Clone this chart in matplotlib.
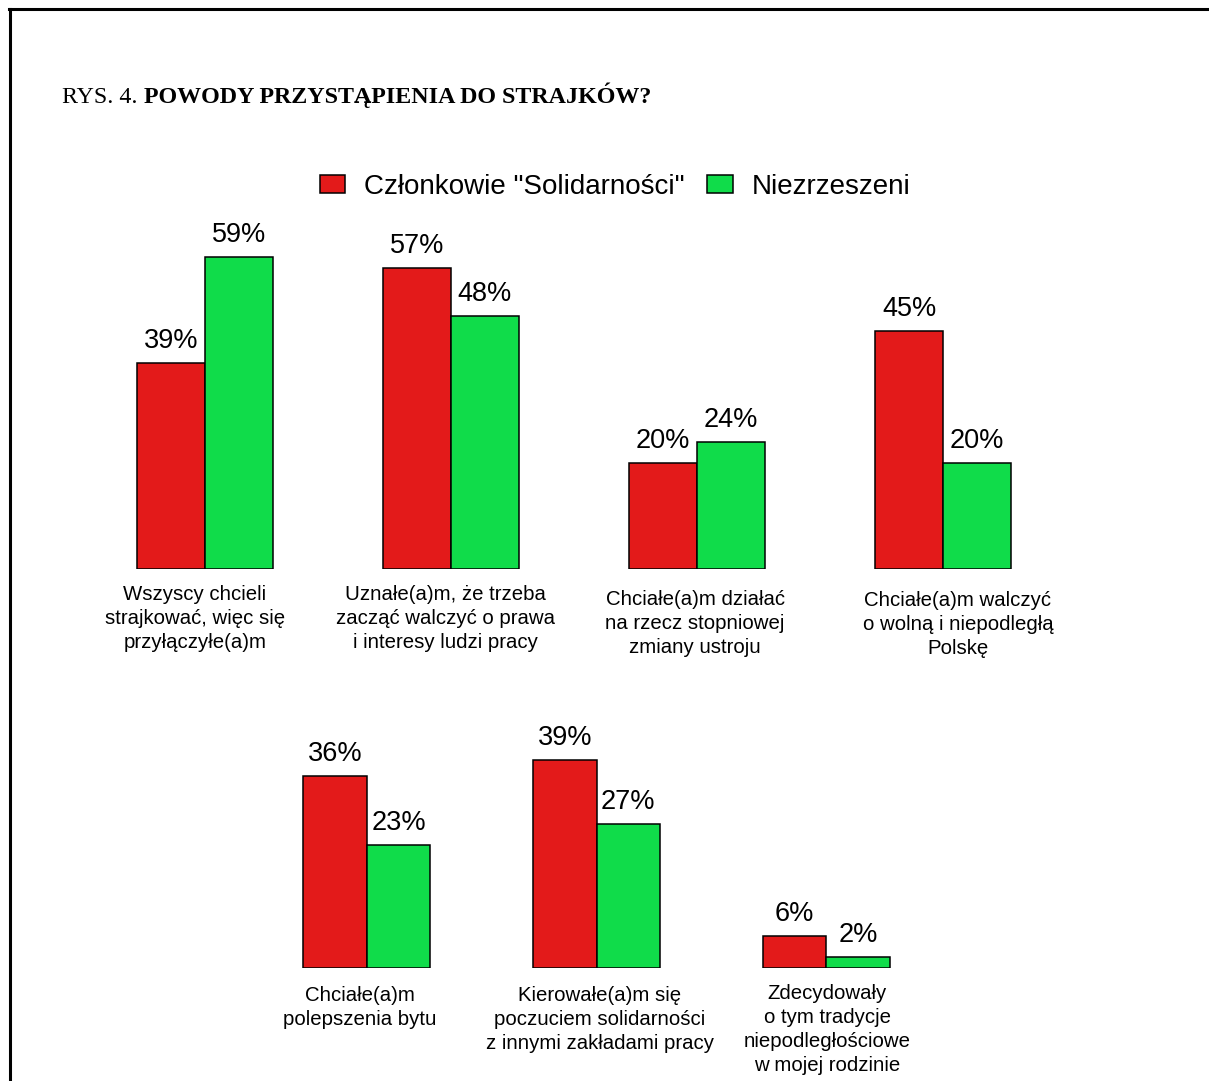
import matplotlib
matplotlib.use("Agg")
import matplotlib.pyplot as plt
from matplotlib.lines import Line2D
from matplotlib.patches import Patch

# data
top_reasons = ["Wszyscy chcieli\nstrajkować, więc się\nprzyłączyłe(a)m",
               "Uznałe(a)m, że trzeba\nzacząć walczyć o prawa\ni interesy ludzi pracy",
               "Chciałe(a)m działać\nna rzecz stopniowej\nzmiany ustroju",
               "Chciałe(a)m walczyć\no wolną i niepodległą\nPolskę"]
top_solidarnosc = [39, 57, 20, 45]
top_niezrzeszeni = [59, 48, 24, 20]

bottom_reasons = ["Chciałe(a)m\npolepszenia bytu",
                  "Kierowałe(a)m się\npoczuciem solidarności\nz innymi zakładami pracy",
                  "Zdecydowały\no tym tradycje\nniepodległościowe\nw mojej rodzinie"]
bottom_solidarnosc = [36, 39, 6]
bottom_niezrzeszeni = [23, 27, 2]

series_names = ['Członkowie "Solidarności"', "Niezrzeszeni"]
red = "#e31a1a"
green = "#10dc4a"

# small nudges of the category captions (pixels), as in the original layout
top_nudge = [(-10, 0), (-6, 0), (-2, 5), (15, 6)]
bottom_nudge = [(-7, 2), (3, 2), (1, 0)]

plt.rcParams['font.family'] = ['Liberation Sans', 'DejaVu Sans']

W, H = 1209, 1081
fig = plt.figure(figsize=(W / 100, H / 100), dpi=100)

def draw_row(ax, cats, s1, s2, ymax, nudge):
    x = list(range(len(cats)))
    w = 0.276
    b1 = ax.bar([i - w / 2 for i in x], s1, width=w, color=red, edgecolor="black", linewidth=1.1)
    b2 = ax.bar([i + w / 2 for i in x], s2, width=w, color=green, edgecolor="black", linewidth=1.1)
    for bars in (b1, b2):
        ax.bar_label(bars, labels=[f"{v}%" for v in bars.datavalues], padding=6.5, fontsize=19.5)
    for i, c, (dx, dy) in zip(x, cats, nudge):
        ax.annotate(c, xy=(i, 0), xytext=(dx, -16 - dy), textcoords="offset pixels",
                    ha="center", va="top", fontsize=14.7, linespacing=1.33,
                    annotation_clip=False)
    ax.set_xlim(-0.5, len(cats) - 0.5)
    ax.set_ylim(0, ymax)
    ax.axis("off")

# top row: group centres 205..943 px, baseline at 569 px
ax1 = fig.add_axes([82 / W, (H - 569) / H, 984 / W, 65 * 5.28 / H])
draw_row(ax1, top_reasons, top_solidarnosc, top_niezrzeszeni, 65, top_nudge)

# bottom row: group centres 367..826 px, baseline at 968 px
ax2 = fig.add_axes([252 / W, (H - 968) / H, 689 / W, 45 * 5.33 / H])
draw_row(ax2, bottom_reasons, bottom_solidarnosc, bottom_niezrzeszeni, 45, bottom_nudge)

# legend
handles = [Patch(facecolor=red, edgecolor="black", linewidth=1.1),
           Patch(facecolor=green, edgecolor="black", linewidth=1.1)]
fig.legend(handles, series_names, loc="center", bbox_to_anchor=(615 / W, 1 - 187 / H),
           ncol=2, frameon=False, fontsize=20, handlelength=0.92, handleheight=0.6,
           handletextpad=0.68, columnspacing=0.8)

# title
t = fig.text(62 / W, 1 - 103 / H, "RYS. 4. ", family="Liberation Serif", fontsize=17.3,
             va="baseline", ha="left")
fig.canvas.draw()
bb = t.get_window_extent()
fig.text(bb.x1 / W, 1 - 103 / H, "POWODY PRZYSTĄPIENIA DO STRAJKÓW?", family="Liberation Serif",
         fontsize=17.3, fontweight="bold", va="baseline", ha="left")

# frame lines (left and top)
fig.add_artist(Line2D([10 / W, 10 / W], [0, 1 - 9 / H], color="black", linewidth=2.2))
fig.add_artist(Line2D([9 / W, 1], [1 - 9 / H, 1 - 9 / H], color="black", linewidth=2.2))

fig.savefig("out.png", dpi=100)
